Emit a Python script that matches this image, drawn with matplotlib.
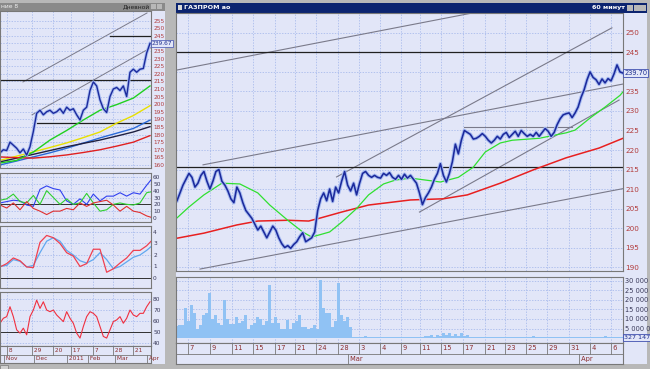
"""
Trading terminal screenshot: daily overview (left) and 60-minute chart (right).
Output: out.png (650x369)
"""
import matplotlib
matplotlib.use("Agg")
import matplotlib.pyplot as plt
from matplotlib.patches import Rectangle

# ---- Main window: 60-minute bars ----
MAIN_CLOSE = [
    207, 209, 211, 212.5, 214, 213, 210.5, 211.5, 213.5, 214.5,
    212, 210, 212, 214.5, 215, 212, 211, 209.5, 207.5, 206.5,
    210.5, 209, 206.5, 204.5, 203.5, 202.5, 201, 199.5, 200.5, 199,
    197.5, 199, 200.5, 199.5, 197.5, 196, 195, 195.5, 194.8, 195.8,
    196.5, 197.8, 198.8, 196.5, 197, 197.5, 199, 204.5, 207.5, 209,
    207, 210, 206.8, 210.5, 209, 212, 214.5, 211, 209.5, 211.5,
    208.5, 211.5, 214, 214.5, 213.5, 213, 213.5, 213, 212.8, 214,
    213.5, 214.2, 213, 212.5, 213.5, 212.5, 213.8, 212.8, 213.5, 212.5,
    211.5, 209, 206, 207.8, 209, 210.5, 212.5, 214, 216.5, 213.5,
    211.8, 214, 217, 221.5, 219, 222.5, 225, 224.5, 224, 222.8,
    223, 223.5, 224.2, 223.5, 222.5, 221.8, 222.5, 223.5, 222.8, 224,
    224.5, 223.2, 224, 224.8, 223.5, 225, 224.2, 223.5, 224, 223.5,
    224.5, 223.5, 224.5, 225.5, 224.8, 223.5, 224.5, 226.5, 228, 229,
    229.3, 229.5, 228.3, 229.5, 231, 233.5, 235.4, 238, 240, 238.6,
    238, 236.8, 238.2, 237.2, 238.3, 237.7, 239.5, 241.8, 240, 239.7,
]
VOLUME_M = [
    6.5, 7, 6.8, 15.8, 9, 17.4, 13, 5, 7, 12,
    13, 23.7, 10, 12, 8, 7, 20, 10, 7.5, 7.5,
    11, 8, 9, 12, 5, 7, 8, 11, 10, 7,
    9, 27.9, 8, 11, 8, 5, 5, 9.5, 5, 8,
    9, 12, 6, 6, 5, 5.5, 7, 5, 30.5, 16,
    13, 13, 6, 9, 29, 12, 9, 11, 6, 0.8,
    0.6, 0.5, 0.7, 1.2, 0.6, 0.5, 0.6, 0.4, 0.5, 0.7,
    0.5, 0.6, 0.4, 0.5, 0.6, 0.8, 0.5, 0.4, 0.6, 0.5,
    0.7, 0.5, 0.6, 0.9, 1.1, 1.4, 0.8, 1.6, 1.2, 2.4,
    1.5, 2.8, 1.3, 2.2, 1.0, 2.6, 1.1, 1.4, 0.8, 0.6,
    0.7, 0.5, 0.6, 0.4, 0.5, 0.7, 0.6, 0.5, 0.8, 0.5,
    0.6, 0.4, 0.5, 0.6, 0.7, 0.5, 0.4, 0.6, 0.5, 0.9,
    0.6, 0.5, 0.4, 0.6, 0.5, 0.7, 0.5, 0.6, 0.4, 0.5,
    0.6, 0.5, 0.8, 0.6, 0.5, 0.4, 0.6, 0.5, 0.7, 0.5,
    0.6, 0.4, 0.5, 0.9, 0.6, 0.5, 0.4, 0.6, 0.5, 0.6,
]
MA_FAST_IDX = [0, 4, 9, 15, 21, 27, 31, 37, 42, 45, 51, 55, 60, 64, 69,
               73, 78, 88, 94, 99, 103, 108, 112, 121, 130, 133, 138, 143, 148, 149]
MA_FAST = [202.6, 205.4, 208.5, 211.5, 211.3, 209, 205.9, 202, 199, 197.7,
           199, 201.5, 205, 208.5, 211.3, 212.3, 212.8, 211.8, 213, 215.6,
           219.5, 221.8, 222.5, 223, 224.4, 225.1, 228.2, 231, 234, 234.9]
MA_SLOW_IDX = [0, 9, 20, 27, 37, 44, 48, 55, 64, 78, 89, 97, 108, 119, 130, 141, 149]
MA_SLOW = [197.4, 198.7, 200.8, 201.8, 202, 201.8, 202.6, 204.1, 205.9, 207.2,
           207.5, 208.5, 211.5, 214.9, 218, 220.5, 223]
# trend lines: (idx0, price0, idx1, price1)
MAIN_TRENDS = [
    (0, 240.5, 100, 255.3),
    (8.7, 216.2, 149, 236.9),
    (7.7, 189.5, 149, 210.1),
    (53.3, 213.1, 145.3, 251.3),
    (81, 204.1, 147.7, 232.8),
    (96, 225.9, 132, 225.9),
]
MAIN_LEVELS = [245, 215.6]
MAIN_TICKS = [3.7, 11, 18.3, 25.3, 32.7, 39.3, 46.3, 53.7, 60.7, 67.7, 74.7,
              81.3, 88.3, 95.7, 103, 109.7, 116.7, 123.7, 131, 138, 145]
MAIN_DAYS = ["7", "9", "11", "15", "17", "21", "24", "28", "3", "4", "9",
             "11", "15", "17", "21", "23", "25", "29", "31", "4", "6"]
MAIN_MONTH_POS = [57, 134.3]
MAIN_MONTHS = ["Mar", "Apr"]
PRICE_TICKS = list(range(190, 255, 5))
VOL_TICKS = [5, 10, 15, 20, 25, 30]

# ---- Left window: daily bars ----
LEFT_CLOSE = [
    168, 170, 169.5, 175, 173, 171, 168, 170.5, 166.5, 172,
    182, 194, 196, 193, 195, 196, 194, 195, 197, 194,
    198, 196, 197, 193, 189.6, 196, 198, 209, 214.6, 212,
    202.8, 197, 194.5, 205, 210, 211, 209, 212, 205, 221,
    223, 221, 223, 223.5, 233.7, 240,
]
LEFT_MA_IDX = [0, 5, 10, 15, 20, 25, 30, 35, 40, 45]
LEFT_MA = {
    "#e8e000": [163, 165.8, 168.6, 171.5, 174.5, 178, 181.7, 187.5, 192.5, 199],
    "#2a6ad8": [160, 162.6, 165.3, 168, 171, 174.4, 177.8, 180.9, 184, 189.5],
    "#202040": [162, 164.5, 167, 169.5, 172, 174.2, 176.4, 179, 181.7, 185.2],
    "#e02020": [165.3, 164.8, 164.5, 165.4, 166.6, 168.2, 170, 172.4, 175, 179.3],
    "#20d020": [161.3, 163, 168.5, 176.4, 182.7, 189.6, 196, 199.7, 204, 212],
}
LEFT_TRENDS = [(6.9, 214.6, 44.1, 260), (9.6, 193, 45.6, 237.6)]
LEFT_LEVELS = [(0, 216), (11, 187.6), (33, 245)]
LEFT_PRICE_TICKS = list(range(160, 260, 5))

IND_IDX = list(range(0, 48, 2))
ADX_BLUE = [22, 24, 26, 25, 19, 17, 42, 47, 43, 41, 25, 20, 28, 20, 35, 25,
            32, 32, 37, 32, 37, 35, 48, 60]
ADX_GREEN = [26, 28, 35, 24, 22, 33, 20, 40, 30, 20, 28, 20, 22, 36, 22, 10,
             12, 20, 22, 20, 19, 22, 37, 39]
ADX_RED = [19, 14.6, 22, 12, 24, 14, 10, 5, 10, 10, 14, 12, 22, 17, 22, 24,
           26, 19, 10, 17, 10, 8, 3, 0]
MACD_RED = [0.96, 1.25, 1.74, 1.5, 0.96, 0.9, 3.1, 3.7, 3.5, 3.0, 2.2, 1.9,
            1.0, 1.25, 2.5, 2.5, 0.5, 0.8, 1.3, 1.74, 2.4, 2.4, 2.8, 3.4]
MACD_BLUE = [1.0, 1.1, 1.6, 1.45, 0.96, 1.1, 2.2, 3.2, 3.5, 3.2, 2.4, 2.0,
             1.5, 1.3, 1.6, 2.2, 1.6, 0.8, 1.0, 1.4, 1.8, 2.0, 2.4, 2.9]
RSI = [58, 62.5, 64, 73, 64, 52, 49, 53.5, 47.5, 64,
       70, 79, 71.5, 77.5, 70, 68.5, 70, 65.5, 62.5, 59.5,
       68.5, 62.5, 58, 49, 44.5, 55, 64, 68.5, 67, 64,
       55, 46, 44.5, 52, 59.5, 61, 64, 58, 62.5, 70,
       65.5, 64, 67, 67, 73, 77.5]
LEFT_TICKS = [2.1, 9.6, 15.9, 21.3, 27.9, 33.9, 39.9]
LEFT_DAYS = ["8", "29", "20", "17", "7", "28", "21"]
LEFT_MONTH_POS = [1.2, 10.2, 20.1, 26.4, 34.5, 44.1]
LEFT_MONTHS = ["Nov", "Dec", "2011", "Feb", "Mar", "Apr"]

# ---- Style ----
W, H = 650, 369
BG = "#e2e6f8"
GRID = "#9fb3ea"
FRAME = "#787878"
CHROME = "#b8b8b8"
NAVY = "#0c2470"
PRICE = "#1c2a9c"
HALO = "#a8bcf2"
RED_LBL = "#b23c3c"
DATE_LBL = "#8c2c2c"
DARK_LBL = "#3a3a5a"


def px_axes(fig, x0, y0, x1, y1, sharex=None):
    ax = fig.add_axes([x0 / W, 1 - y1 / H, (x1 - x0) / W, (y1 - y0) / H],
                      sharex=sharex)
    ax.set_facecolor(BG)
    for s in ax.spines.values():
        s.set_color(FRAME)
        s.set_linewidth(0.8)
    ax.tick_params(length=0, labelbottom=False, labelleft=False)
    return ax


def add_grid(ax, xticks, yticks, labels, size, color):
    ax.set_xticks(xticks)
    ax.set_yticks(yticks)
    ax.yaxis.tick_right()
    ax.set_yticklabels(labels)
    ax.tick_params(axis="y", labelright=True, labelsize=size,
                   labelcolor=color, pad=1.5, length=0)
    ax.grid(True, color=GRID, lw=0.5, ls=(0, (2, 2)))
    ax.set_axisbelow(True)


def date_strip(ax, ticks, days, mpos, months, size):
    ax.set_ylim(0, 1)
    ax.set_yticks([])
    ax.axhline(0.5, color=FRAME, lw=0.6)
    for t, d in zip(ticks, days):
        ax.plot([t, t], [0.5, 1], color=FRAME, lw=0.6)
        ax.text(t, 0.75, " " + d, ha="left", va="center", fontsize=size,
                color=DATE_LBL)
    for m, lbl in zip(mpos, months):
        ax.plot([m, m], [0, 0.5], color=FRAME, lw=0.6)
        ax.text(m, 0.25, " " + lbl, ha="left", va="center", fontsize=size,
                color=DATE_LBL)


def main():
    fig = plt.figure(figsize=(W / 100, H / 100), dpi=100, facecolor=BG)

    # --- window chrome ---
    bg = fig.add_axes([0, 0, 1, 1])
    bg.set_xlim(0, W)
    bg.set_ylim(H, 0)
    bg.axis("off")
    for x, y, w, h, c in [(0, 0, W, 3, CHROME), (165, 0, 11, H, CHROME),
                          (647, 0, 3, H, CHROME), (0, 364, W, 5, CHROME),
                          (0, 3, 165, 7.5, "#8a8a8a"), (176, 3, 471, 9.5, NAVY),
                          (177.5, 5, 4, 5, "#d8d8d8"), (627, 4.5, 6, 6, CHROME),
                          (633.5, 4.5, 6, 6, CHROME), (640, 4.5, 6, 6, CHROME),
                          (151, 4, 5, 5, CHROME), (156.5, 4, 5, 5, CHROME)]:
        bg.add_patch(Rectangle((x, y), w, h, facecolor=c, edgecolor="none"))
    bg.add_patch(Rectangle((0, 364.5), 8, 4, facecolor="#d0d0d0",
                           edgecolor=FRAME, lw=0.5))
    bg.text(184, 7.8, "ГАЗПРОМ ао", color="white", fontsize=4.6,
            fontweight="bold", va="center")
    bg.text(625, 7.8, "60 минут", color="white", fontsize=4.6,
            fontweight="bold", va="center", ha="right")
    bg.text(1, 6.8, "ние 8", color="#f0f0f0", fontsize=4.3, va="center")
    bg.text(150, 6.8, "Дневной", color="#202020", fontsize=4.3,
            va="center", ha="right")

    # --- main price panel ---
    ax = px_axes(fig, 176, 13, 623, 271)
    idx = list(range(len(MAIN_CLOSE)))
    ax.set_xlim(-0.33, 149)
    ax.set_ylim(189, 255.1)
    add_grid(ax, MAIN_TICKS, PRICE_TICKS,
             ["" if p == 240 else str(p) for p in PRICE_TICKS], 5.2, RED_LBL)
    for x0, y0, x1, y1 in MAIN_TRENDS:
        ax.plot([x0, x1], [y0, y1], color="#7a7a8a", lw=0.8)
    for lvl in MAIN_LEVELS:
        ax.axhline(lvl, color="#202020", lw=0.9)
    ax.plot(MA_SLOW_IDX, MA_SLOW, color="#e82020", lw=1.1)
    ax.plot(MA_FAST_IDX, MA_FAST, color="#30e030", lw=0.9)
    ax.plot(idx, MAIN_CLOSE, color=HALO, lw=2.6)
    ax.plot(idx, MAIN_CLOSE, color=PRICE, lw=1.15)
    ax.text(1.003, MAIN_CLOSE[-1], f"{MAIN_CLOSE[-1]:.2f}",
            transform=ax.get_yaxis_transform(), fontsize=4.8, color="#203090",
            va="center", ha="left", clip_on=False,
            bbox=dict(boxstyle="square,pad=0.15", fc=BG, ec="#4050b0", lw=0.6))

    # --- volume panel ---
    av = px_axes(fig, 176, 277, 623, 343, sharex=ax)
    av.bar(idx, VOLUME_M, width=1.0, color="#90c2f4", linewidth=0)
    av.set_ylim(-2.6, 32)
    add_grid(av, MAIN_TICKS, VOL_TICKS,
             [f"{v * 1000000:,}".replace(",", " ") for v in VOL_TICKS],
             4.8, DARK_LBL)
    av.text(1.003, 0.5, "327 147", transform=av.get_yaxis_transform(),
            fontsize=4.6, color="#203090", va="center", ha="left",
            clip_on=False,
            bbox=dict(boxstyle="square,pad=0.15", fc=BG, ec="#4050b0", lw=0.6))

    ad = px_axes(fig, 176, 343, 623, 364, sharex=ax)
    date_strip(ad, MAIN_TICKS, MAIN_DAYS, MAIN_MONTH_POS, MAIN_MONTHS, 4.8)

    # --- left daily price panel ---
    lx = px_axes(fig, 0, 11, 151, 168)
    lidx = list(range(len(LEFT_CLOSE)))
    lx.set_xlim(0, 45.3)
    lx.set_ylim(158, 261.3)
    add_grid(lx, LEFT_TICKS, LEFT_PRICE_TICKS,
             ["" if p == 240 else str(p) for p in LEFT_PRICE_TICKS], 4.2,
             RED_LBL)
    for x0, y0, x1, y1 in LEFT_TRENDS:
        lx.plot([x0, x1], [y0, y1], color="#7a7a8a", lw=0.7)
    for x0, lvl in LEFT_LEVELS:
        lx.plot([x0, 46], [lvl, lvl], color="#202020", lw=0.9)
    for color, vals in LEFT_MA.items():
        lx.plot(LEFT_MA_IDX, vals, color=color, lw=1.0)
    lx.plot(lidx, LEFT_CLOSE, color=HALO, lw=2.3)
    lx.plot(lidx, LEFT_CLOSE, color=PRICE, lw=1.0)
    lx.text(1.005, LEFT_CLOSE[-1], "239.67",
            transform=lx.get_yaxis_transform(), fontsize=4.2, color="#203090",
            va="center", ha="left", clip_on=False,
            bbox=dict(boxstyle="square,pad=0.12", fc=BG, ec="#4050b0", lw=0.5))

    # --- left indicators ---
    a1 = px_axes(fig, 0, 173, 151, 222, sharex=lx)
    a1.set_ylim(-5.9, 65.9)
    add_grid(a1, LEFT_TICKS, list(range(0, 70, 10)),
             [str(v) for v in range(0, 70, 10)], 4.2, DARK_LBL)
    a1.axhline(20, color="#303030", lw=0.7)
    a1.plot(IND_IDX, ADX_BLUE, color="#3040f0", lw=0.8)
    a1.plot(IND_IDX, ADX_GREEN, color="#30d030", lw=0.8)
    a1.plot(IND_IDX, ADX_RED, color="#e03030", lw=0.8)

    a2 = px_axes(fig, 0, 226, 151, 288, sharex=lx)
    a2.set_ylim(-0.87, 4.52)
    add_grid(a2, LEFT_TICKS, [0, 1, 2, 3, 4], ["0", "1", "2", "3", "4"],
             4.2, DARK_LBL)
    a2.axhline(0, color="#303030", lw=0.7)
    a2.plot(IND_IDX, MACD_BLUE, color="#60a8f0", lw=0.9)
    a2.plot(IND_IDX, MACD_RED, color="#f04050", lw=0.9)

    a3 = px_axes(fig, 0, 292, 151, 346, sharex=lx)
    a3.set_ylim(37.3, 86.4)
    add_grid(a3, LEFT_TICKS, [40, 50, 60, 70, 80],
             ["40", "50", "60", "70", "80"], 4.2, DARK_LBL)
    a3.axhline(50, color="#303030", lw=0.7)
    a3.plot(lidx, RSI, color="#f03040", lw=0.8)

    a4 = px_axes(fig, 0, 346, 151, 363, sharex=lx)
    date_strip(a4, LEFT_TICKS, LEFT_DAYS, LEFT_MONTH_POS, LEFT_MONTHS, 4.2)

    fig.savefig("out.png", dpi=100, facecolor=fig.get_facecolor())
    plt.close(fig)


if __name__ == "__main__":
    main()
